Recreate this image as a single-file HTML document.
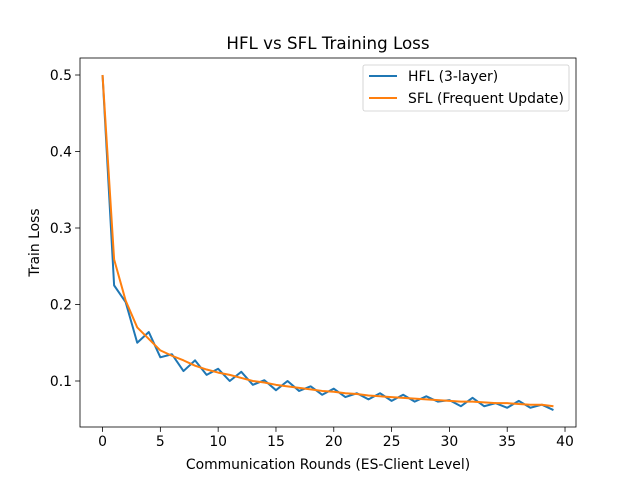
<!DOCTYPE html>
<html><head><meta charset="utf-8"><style>body{margin:0;background:#fff}svg{display:block;font-family:"DejaVu Sans","Liberation Sans",sans-serif}</style></head>
<body>
<svg id="chart" width="640" height="480" viewBox="0 0 640 480">
<rect width="640" height="480" fill="#fff"/>
<text x="328" y="49" text-anchor="middle" font-size="16.7">HFL vs SFL Training Loss</text>
<g id="plot"></g>
<text x="328" y="469" text-anchor="middle" font-size="13.9">Communication Rounds (ES-Client Level)</text>
<text transform="translate(39,242.5) rotate(-90)" text-anchor="middle" font-size="13.9">Train Loss</text>
</svg>
<script>
const hfl=[0.5,0.225,0.203,0.150,0.164,0.131,0.135,0.113,0.127,0.108,0.116,0.100,0.112,0.095,0.101,0.088,0.100,0.087,0.093,0.082,0.090,0.079,0.084,0.076,0.084,0.074,0.082,0.073,0.080,0.073,0.075,0.067,0.078,0.067,0.071,0.065,0.074,0.065,0.069,0.062];
const sfl=[0.5,0.259,0.205,0.170,0.155,0.140,0.133,0.127,0.120,0.115,0.111,0.108,0.104,0.100,0.098,0.095,0.093,0.091,0.089,0.087,0.086,0.084,0.083,0.081,0.080,0.079,0.078,0.077,0.076,0.075,0.074,0.073,0.073,0.072,0.071,0.071,0.070,0.069,0.069,0.067];
const xTicks=[0,5,10,15,20,25,30,35,40];
const yTicks=[0.1,0.2,0.3,0.4,0.5];
const L=80,R=576,T=58,B=427;
const xs=v=>L+(v+1.95)*(R-L)/42.9;
const ys=v=>381-(v-0.1)*765;
const NS='http://www.w3.org/2000/svg';
const g=document.getElementById('plot');
function mk(t,a){const e=document.createElementNS(NS,t);for(const k in a)e.setAttribute(k,a[k]);g.appendChild(e);return e;}
xTicks.forEach(v=>{const x=xs(v);
 const t=mk('line',{x1:x,x2:x,y1:B,y2:B+4.9,stroke:'#000','stroke-width':0.8});
 
 
 const l=mk('text',{x:x,y:B+19,'text-anchor':'middle','font-size':13.9});l.textContent=v;
 
 });
yTicks.forEach(v=>{const y=ys(v);
 const t=mk('line',{x1:L-4.9,x2:L,y1:y,y2:y,stroke:'#000','stroke-width':0.8});
 
 
 const l=mk('text',{x:L-8,y:y+5,'text-anchor':'end','font-size':13.9});l.textContent=v.toFixed(1);
 
 });
function line(d,c,n){const p=mk('polyline',{points:d.map((v,i)=>xs(i)+','+ys(v)).join(' '),fill:'none',stroke:c,'stroke-width':2,'stroke-linejoin':'round'});
 
 }
line(hfl,'#1f77b4','hfl-line');
line(sfl,'#ff7f0e','sfl-line');
const f=mk('rect',{x:L,y:T,width:R-L,height:B-T,fill:'none',stroke:'#000','stroke-width':0.8});


const lg=mk('rect',{x:363,y:65,width:206,height:46,rx:2,fill:'#fff',stroke:'#ccc','stroke-width':0.8});


[['HFL (3-layer)','#1f77b4',76],['SFL (Frequent Update)','#ff7f0e',98]].forEach(([t,c,y],i)=>{
 const s=mk('line',{x1:369,x2:397,y1:y,y2:y,stroke:c,'stroke-width':2});
 
 
 const tx=mk('text',{x:408,y:y+5,'font-size':13.9});tx.textContent=t;
 
 });
</script>
</body></html>
